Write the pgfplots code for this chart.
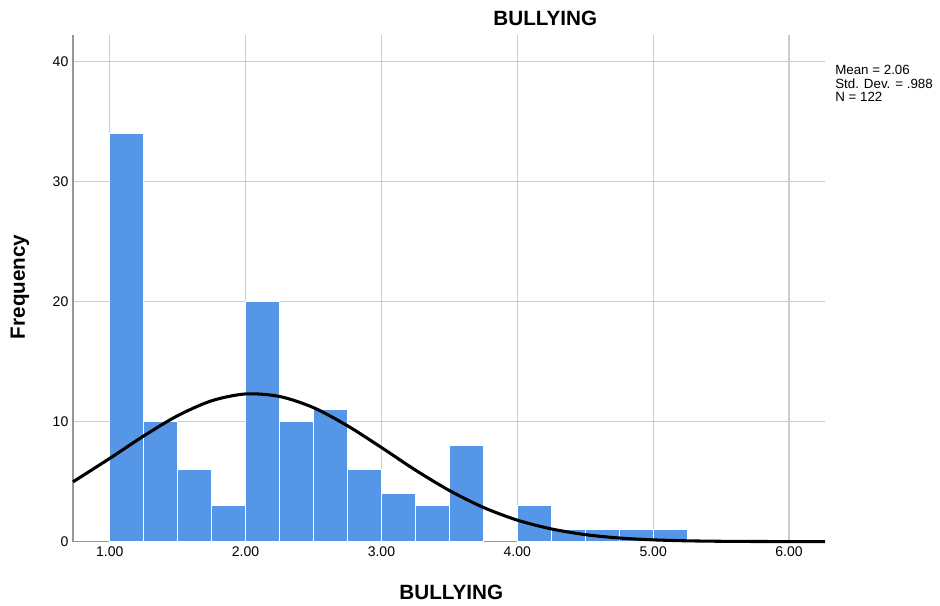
\documentclass[border=0pt]{standalone}
\usepackage{pgfplots}
\pgfplotsset{compat=1.18}
\usepackage{fontspec}
\setmainfont{Liberation Sans}
\definecolor{barblue}{RGB}{85,150,230}
\definecolor{gridgrey}{RGB}{204,204,204}
\definecolor{spinegrey}{RGB}{150,150,150}

\begin{document}
\begin{tikzpicture}
\begin{axis}[scale only axis,width=564pt,height=380pt,
  xmin=0.73,xmax=6.265,ymin=0,ymax=42.2,
  xtick={1,2,3,4,5,6},ytick={0,10,20,30,40},
  xticklabel style={/pgf/number format/.cd,fixed,fixed zerofill,precision=2},
  /pgf/number format/assume math mode=true,
  tick label style={font=\fontsize{10.5}{12}\selectfont},
  major tick length=0pt,
  grid=major,major grid style={gridgrey,line width=1pt},
  axis x line*=bottom,axis y line*=left,
  axis line style={spinegrey,line width=1.1pt,-},
  clip=false]
% bins of width 0.25, plotted at their centres
\addplot[ybar,bar width=0.25,bar shift=0pt,fill=barblue,draw=white,line width=0.8pt] coordinates {
  (1.125,34)(1.375,10)(1.625,6)(1.875,3)(2.125,20)(2.375,10)(2.625,11)(2.875,6)
  (3.125,4)(3.375,3)(3.625,8)(4.125,3)(4.375,1)(4.625,1)(4.875,1)(5.125,1)};
\addplot[smooth,black,line width=2.3pt] coordinates {
  (0.73,4.98)(1.00,6.93)(1.25,8.80)(1.50,10.49)(1.75,11.73)(2.00,12.30)
  (2.25,12.09)(2.50,11.16)(2.75,9.65)(3.00,7.84)(3.25,5.96)(3.50,4.26)(3.75,2.85)
  (4.00,1.79)(4.25,1.06)(4.50,0.584)(4.75,0.303)(5.00,0.147)(5.25,0.067)(5.50,0.029)
  (5.75,0.012)(6.00,0.004)(6.265,0.001)};
\node[font=\bfseries\fontsize{15.5}{17}\selectfont] at (rel axis cs:0.628,1.0335) {BULLYING};
\node[font=\bfseries\fontsize{15.5}{17}\selectfont] at (rel axis cs:0.503,-0.1006) {BULLYING};
\node[font=\bfseries\fontsize{15.5}{17}\selectfont,rotate=90] at (rel axis cs:-0.0705,0.503) {Frequency};
\node[font=\fontsize{10}{10}\selectfont,align=left,anchor=north west,inner sep=0pt]
  at (rel axis cs:1.0133,0.940) {Mean = 2.06\\Std. Dev. = .988\\N = 122};
\coordinate (bl) at (rel axis cs:-0.0971,-0.1262);
\coordinate (tr) at (rel axis cs:1.1529,1.069);
\end{axis}
\pgfresetboundingbox
\path (bl) rectangle (tr);
\end{tikzpicture}
\end{document}
